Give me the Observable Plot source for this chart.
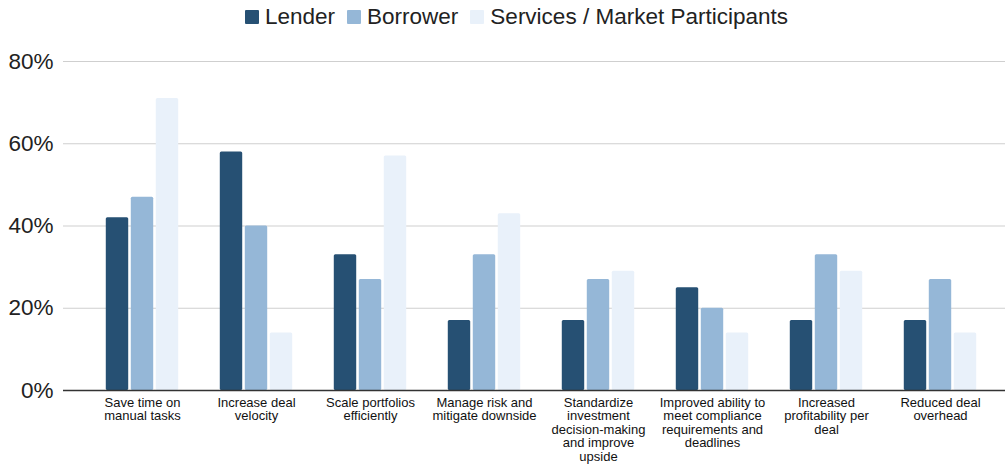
<!DOCTYPE html>
<html>
<head>
<meta charset="utf-8">
<script src="https://cdn.jsdelivr.net/npm/d3@7"></script>
<script src="https://cdn.jsdelivr.net/npm/@observablehq/plot@0.6"></script>
<style>
  html, body { margin: 0; padding: 0; background: #fff; }
  body { width: 1008px; height: 464px; overflow: hidden; font-family: "Liberation Sans", Arial, sans-serif; }
  #legend { height: 34px; display: flex; justify-content: center; align-items: center; padding-left: 37px; box-sizing: border-box; font-size: 22.5px; color: #222; }
  .item { display: flex; align-items: center; margin-right: 12px; }
  .sw { width: 14px; height: 14px; margin-right: 6px; border-radius: 1px; }
</style>
</head>
<body>
<div id="legend"></div>
<div id="chart"></div>
<script>
const categories = [
  "Save time on\nmanual tasks",
  "Increase deal\nvelocity",
  "Scale portfolios\nefficiently",
  "Manage risk and\nmitigate downside",
  "Standardize\ninvestment\ndecision-making\nand improve\nupside",
  "Improved ability to\nmeet compliance\nrequirements and\ndeadlines",
  "Increased\nprofitability per\ndeal",
  "Reduced deal\noverhead"
];
const seriesNames = ["Lender", "Borrower", "Services / Market Participants"];
const lender   = [42, 58, 33, 17, 17, 25, 17, 17];
const borrower = [47, 40, 27, 33, 27, 20, 33, 27];
const services = [71, 14, 57, 43, 29, 14, 29, 14];
const colors = ["#265073", "#95b7d7", "#e9f1fa"];
const yTicks = [0, 20, 40, 60, 80];

const seriesValues = [lender, borrower, services];
const data = [];
categories.forEach((c, i) => {
  seriesNames.forEach((s, j) => data.push({category: c, series: s, value: seriesValues[j][i]}));
});

// legend
const legend = document.getElementById("legend");
seriesNames.forEach((s, j) => {
  const it = document.createElement("div");
  it.className = "item";
  const sw = document.createElement("div");
  sw.className = "sw";
  sw.style.background = colors[j];
  const t = document.createElement("span");
  t.textContent = s;
  it.appendChild(sw); it.appendChild(t);
  legend.appendChild(it);
});

// layout of grouped bars within each category band
const xRange = [83.2, 999.8];
const step = (xRange[1] - xRange[0]) / categories.length;
const barW = 23, gap = 2;
const groupW = seriesNames.length * barW + (seriesNames.length - 1) * gap;

const barMarks = seriesNames.map((s, j) => {
  const insetLeft = (step - groupW) / 2 + j * (barW + gap);
  const insetRight = step - insetLeft - barW;
  return Plot.barY(data.filter(d => d.series === s), {
    x: "category", y: "value", fill: "series", insetLeft, insetRight, rx: 1.5
  });
});

const chart = Plot.plot({
  width: 1008,
  height: 430,
  marginTop: 27,
  marginBottom: 74,
  marginLeft: 63,
  marginRight: 3,
  style: {fontFamily: "Liberation Sans, Arial, sans-serif", color: "#111", background: "#fff"},
  x: {domain: categories, range: xRange, padding: 0},
  y: {domain: [0, 80]},
  color: {domain: seriesNames, range: colors},
  marks: [
    Plot.gridY(yTicks.filter(d => d > 0), {stroke: "#cfcfcf", strokeOpacity: 1, strokeWidth: 1}),
    Plot.axisY(yTicks, {tickSize: 0, tickPadding: 10, tickFormat: d => d + "%", fontSize: 22.5, fill: "#222", label: null}),
    ...barMarks,
    Plot.ruleY([0], {stroke: "#333", strokeWidth: 1.5}),
    Plot.axisX({anchor: "bottom", tickSize: 0, tickPadding: 7, fontSize: 13, lineHeight: 1.03, label: null, fill: "#111"})
  ]
});
document.getElementById("chart").appendChild(chart);
</script>
</body>
</html>
